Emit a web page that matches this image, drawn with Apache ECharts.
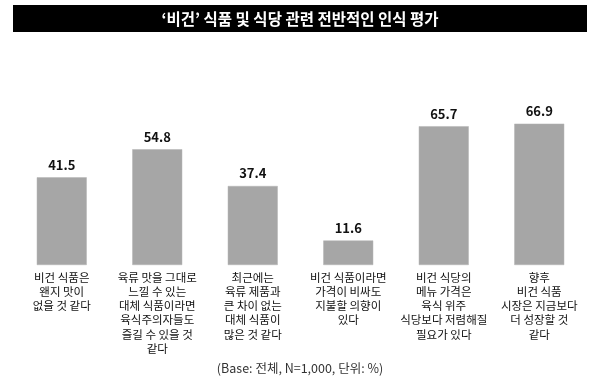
<!DOCTYPE html>
<html>
<head>
<meta charset="utf-8">
<script src="https://cdn.jsdelivr.net/npm/echarts@6/dist/echarts.min.js"></script>
<style>html,body{margin:0;padding:0;background:#fff;}#c{width:600px;height:384px;}</style>
</head>
<body>
<div id="c"></div>
<script>
var titleText = '‘비건’ 식품 및 식당 관련 전반적인 인식 평가';
var footnote = '(Base: 전체, N=1,000, 단위: %)';
var categories = [
  '비건 식품은\n왠지 맛이\n없을 것 같다',
  '육류 맛을 그대로\n느낄 수 있는\n대체 식품이라면\n육식주의자들도\n즐길 수 있을 것\n같다',
  '최근에는\n육류 제품과\n큰 차이 없는\n대체 식품이\n많은 것 같다',
  '비건 식품이라면\n가격이 비싸도\n지불할 의향이\n있다',
  '비건 식당의\n메뉴 가격은\n육식 위주\n식당보다 저렴해질\n필요가 있다',
  '향후\n비건 식품\n시장은 지금보다\n더 성장할 것\n같다'
];
var values = [41.5, 54.8, 37.4, 11.6, 65.7, 66.9];

var font = '"Noto Sans CJK KR", "Noto Sans", sans-serif';
var chart = echarts.init(document.getElementById('c'), null, {renderer: 'canvas'});
chart.setOption({
  animation: false,
  backgroundColor: '#ffffff',
  graphic: [{
    type: 'rect',
    shape: {x: 13, y: 5, width: 574, height: 27},
    style: {fill: '#000000'},
    z: 0
  }],
  title: [{
    text: titleText,
    left: 'center',
    top: 6,
    textStyle: {color: '#ffffff', fontSize: 15.5, fontWeight: 'bold', fontFamily: font},
    z: 10
  }, {
    text: footnote,
    left: 'center',
    top: 357,
    textStyle: {color: '#333333', fontSize: 12.5, fontWeight: 'normal', fontFamily: font}
  }],
  grid: {left: 14, right: 13, top: 96, bottom: 119, containLabel: false},
  xAxis: {
    type: 'category',
    data: categories,
    axisLine: {show: false},
    axisTick: {show: false},
    axisLabel: {
      interval: 0,
      margin: 5,
      color: '#111111',
      fontSize: 11.5,
      lineHeight: 14.3,
      fontFamily: font,
      align: 'center',
      verticalAlign: 'top'
    }
  },
  yAxis: {
    type: 'value',
    min: 0,
    max: 80,
    show: false,
    splitLine: {show: false}
  },
  series: [{
    type: 'bar',
    data: values,
    barWidth: 50,
    itemStyle: {color: '#a6a6a6', borderColor: '#b4b4b4', borderWidth: 0.5},
    label: {
      show: true,
      position: 'top',
      distance: 6,
      color: '#111111',
      fontSize: 13,
      fontWeight: 'bold',
      fontFamily: font,
      formatter: function (p) { return p.value.toFixed(1); }
    }
  }]
});
</script>
</body>
</html>
